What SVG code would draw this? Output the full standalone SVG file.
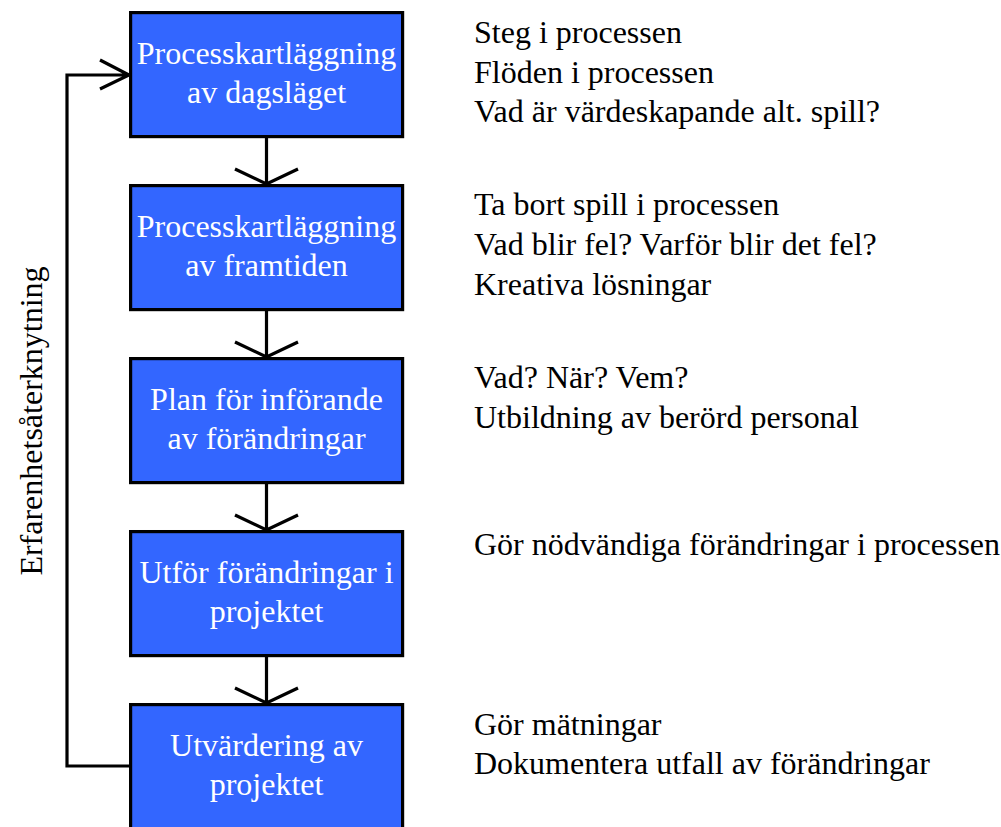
<svg xmlns="http://www.w3.org/2000/svg" width="1001" height="827" viewBox="0 0 1001 827">
<style>
.box{fill:#3366FF;stroke:#000;stroke-width:3.2}
.bt{font-family:"Liberation Serif","Times New Roman",serif;font-size:32px;fill:#fff;text-anchor:middle}
.nt{font-family:"Liberation Serif","Times New Roman",serif;font-size:32px;fill:#000}
.ln{fill:none;stroke:#000;stroke-width:3.2}
</style>
<rect width="1001" height="827" fill="#fff"/>
<g id="connectors">
<path class="ln" d="M266.5,138 V184 M235,169 L266.5,184 L298,169"/>
<path class="ln" d="M266.5,311 V357 M235,342 L266.5,357 L298,342"/>
<path class="ln" d="M266.5,484 V530 M235,515 L266.5,530 L298,515"/>
<path class="ln" d="M266.5,657 V703 M235,688 L266.5,703 L298,688"/>
<path class="ln" d="M130,766 H67 V75 H129 M100,60 L129,75 L100,89"/>
</g>
<g id="n1"><rect class="box" x="130.6" y="12.6" width="272" height="124"/>
<text class="bt" x="266.5" y="64">Processkartläggning</text><text class="bt" x="266.5" y="103">av dagsläget</text></g>
<g id="n2"><rect class="box" x="130.6" y="185.6" width="272" height="124"/>
<text class="bt" x="266.5" y="237">Processkartläggning</text><text class="bt" x="266.5" y="276">av framtiden</text></g>
<g id="n3"><rect class="box" x="130.6" y="358.6" width="272" height="124"/>
<text class="bt" x="266.5" y="410">Plan för införande</text><text class="bt" x="266.5" y="449">av förändringar</text></g>
<g id="n4"><rect class="box" x="130.6" y="531.6" width="272" height="124"/>
<text class="bt" x="266.5" y="583">Utför förändringar i</text><text class="bt" x="266.5" y="622">projektet</text></g>
<g id="n5"><rect class="box" x="130.6" y="704.6" width="272" height="124"/>
<text class="bt" x="266.5" y="756">Utvärdering av</text><text class="bt" x="266.5" y="795">projektet</text></g>
<g id="notes">
<text class="nt" x="474" y="43">Steg i processen</text>
<text class="nt" x="474" y="83">Flöden i processen</text>
<text class="nt" x="474" y="122">Vad är värdeskapande alt. spill?</text>
<text class="nt" x="474" y="215">Ta bort spill i processen</text>
<text class="nt" x="474" y="255">Vad blir fel? Varför blir det fel?</text>
<text class="nt" x="474" y="295">Kreativa lösningar</text>
<text class="nt" x="474" y="388">Vad? När? Vem?</text>
<text class="nt" x="474" y="428">Utbildning av berörd personal</text>
<text class="nt" x="474" y="555">Gör nödvändiga förändringar i processen</text>
<text class="nt" x="474" y="735">Gör mätningar</text>
<text class="nt" x="474" y="774">Dokumentera utfall av förändringar</text>
</g>
<g id="feedback-label"><text class="nt" text-anchor="middle" transform="translate(42,421) rotate(-90)">Erfarenhetsåterknytning</text></g>
</svg>
